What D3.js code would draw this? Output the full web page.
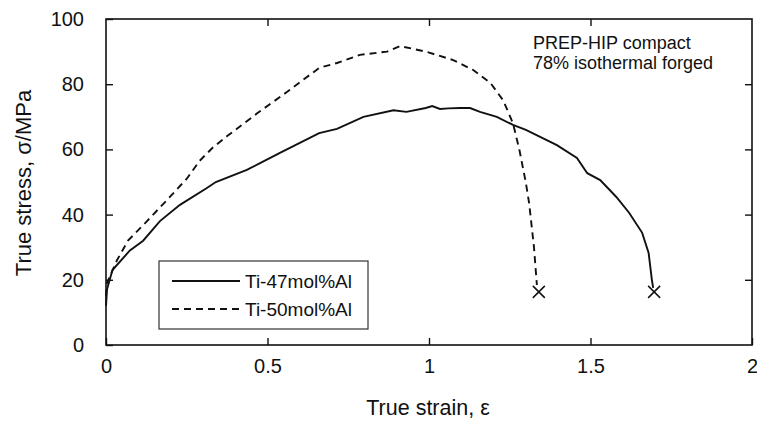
<!DOCTYPE html>
<html>
<head>
<meta charset="utf-8">
<script src="https://cdn.jsdelivr.net/npm/d3@7"></script>
<style>
  body { margin: 0; background: #fff; }
  text { font-family: "Liberation Sans", Arial, Helvetica, sans-serif; fill: #111; }
  .axis path { display: none; }
  .axis line { stroke: #111; stroke-width: 1.4; }
  .axis text { font-size: 20px; }
</style>
</head>
<body>
<script>
//true strain / true stress
var strain47 = [0, 0.003, 0.02, 0.074, 0.115, 0.167, 0.229, 0.31, 0.34, 0.436, 0.477, 0.54, 0.66, 0.715, 0.797, 0.89, 0.93, 0.99, 1.01, 1.034, 1.06, 1.096, 1.127, 1.158, 1.21, 1.26, 1.30, 1.396, 1.458, 1.49, 1.53, 1.58, 1.62, 1.66, 1.68, 1.69, 1.694];
var stress47 = [12, 17, 23, 29, 32, 38, 43, 48, 50, 53.7, 55.8, 59, 65, 66.3, 70, 72, 71.5, 72.7, 73.3, 72.4, 72.6, 72.7, 72.7, 71.5, 70, 67.5, 66, 61.3, 57.4, 52.7, 50.6, 45.4, 40.5, 34.4, 28.2, 20, 17.5];

var strain50 = [0, 0.003, 0.034, 0.068, 0.127, 0.189, 0.25, 0.29, 0.33, 0.374, 0.467, 0.56, 0.66, 0.715, 0.786, 0.87, 0.91, 0.99, 1.075, 1.136, 1.19, 1.23, 1.26, 1.28, 1.30, 1.31, 1.325, 1.334];
var stress50 = [15, 19, 26, 32, 38, 44.5, 51, 56.5, 60.5, 64, 71, 77.6, 85, 86.5, 89, 90, 91.7, 90, 87.4, 84.4, 80.4, 75, 68, 59.8, 49.7, 43.5, 30, 18.4];

//fracture points (the X marks)
var breakStrain = [1.34, 1.697];
var breakStress = [16.3, 16.3];

var seriesNames = ["Ti-47mol%Al", "Ti-50mol%Al"];
var xTicks = [0, 0.5, 1, 1.5, 2];
var yTicks = [0, 20, 40, 60, 80, 100];

window.onload = function(){
    var w = 757, h = 421;
    var left = 106, right = 752, top = 19, bottom = 345;

    var svg = d3.select("body").append("svg")
        .attr("width", w)
        .attr("height", h);

    var x = d3.scaleLinear().domain([0, 2]).range([left, right]);
    var y = d3.scaleLinear().domain([0, 100]).range([bottom, top]);

    //inward ticks on all four sides
    svg.append("g").attr("class", "axis")
        .attr("transform", "translate(" + left + ",0)")
        .call(d3.axisLeft(y).tickValues(yTicks).tickSize(-7).tickSizeOuter(0).tickPadding(22));

    svg.append("g").attr("class", "axis")
        .attr("transform", "translate(0," + bottom + ")")
        .call(d3.axisBottom(x).tickValues(xTicks).tickSize(-7).tickSizeOuter(0).tickPadding(14)
            .tickFormat(d3.format("~g")));

    svg.append("g").attr("class", "axis")
        .attr("transform", "translate(" + right + ",0)")
        .call(d3.axisRight(y).tickValues([20, 40, 60, 80]).tickSize(-7).tickSizeOuter(0).tickFormat(""));

    svg.append("g").attr("class", "axis")
        .attr("transform", "translate(0," + top + ")")
        .call(d3.axisTop(x).tickValues([0.5, 1, 1.5]).tickSize(-7).tickSizeOuter(0).tickFormat(""));

    //frame
    svg.append("rect")
        .attr("x", left).attr("y", top)
        .attr("width", right - left).attr("height", bottom - top)
        .style("fill", "none").style("stroke", "#111").style("stroke-width", 1.6);

    var line = d3.line()
        .x(function(d){ return x(d[0]); })
        .y(function(d){ return y(d[1]); });

    svg.append("path")
        .datum(d3.zip(strain47, stress47))
        .attr("d", line)
        .style("fill", "none").style("stroke", "#111").style("stroke-width", 1.9);

    svg.append("path")
        .datum(d3.zip(strain50, stress50))
        .attr("d", line)
        .style("fill", "none").style("stroke", "#111").style("stroke-width", 1.9)
        .style("stroke-dasharray", "7,5");

    //X marks at fracture
    svg.selectAll(".brk")
        .data(d3.zip(breakStrain, breakStress))
        .enter()
        .append("path")
        .attr("class", "brk")
        .attr("d", function(d){
            var cx = x(d[0]), cy = y(d[1]), r = 6;
            return "M" + (cx - r) + "," + (cy - r) + "L" + (cx + r) + "," + (cy + r) +
                   "M" + (cx - r) + "," + (cy + r) + "L" + (cx + r) + "," + (cy - r);
        })
        .style("stroke", "#111").style("stroke-width", 1.5).style("fill", "none");

    //legend
    var legend = svg.append("g").attr("transform", "translate(159,261)");
    legend.append("rect")
        .attr("width", 209).attr("height", 68)
        .style("fill", "#fff").style("stroke", "#333").style("stroke-width", 1.2);

    var rows = legend.selectAll(".row")
        .data(seriesNames)
        .enter()
        .append("g")
        .attr("transform", function(d, i){ return "translate(0," + (20 + i * 28) + ")"; });

    rows.append("line")
        .attr("x1", 13).attr("x2", 81)
        .style("stroke", "#111").style("stroke-width", 1.8)
        .style("stroke-dasharray", function(d, i){ return i ? "7,5" : null; });

    rows.append("text")
        .attr("x", 86).attr("y", 7)
        .style("font-size", "19px")
        .text(function(d){ return d; });

    //annotation
    var note = svg.append("text").style("font-size", "18px");
    note.append("tspan").attr("x", 533).attr("y", 49).text("PREP-HIP compact");
    note.append("tspan").attr("x", 533).attr("y", 69).text("78% isothermal forged");

    //axis titles
    svg.append("text")
        .attr("x", 428).attr("y", 415)
        .attr("text-anchor", "middle")
        .style("font-size", "21.5px")
        .text("True strain, ε");

    svg.append("text")
        .attr("transform", "translate(31,183) rotate(-90)")
        .attr("text-anchor", "middle")
        .style("font-size", "22px")
        .text("True stress, σ/MPa");
};
</script>
</body>
</html>
